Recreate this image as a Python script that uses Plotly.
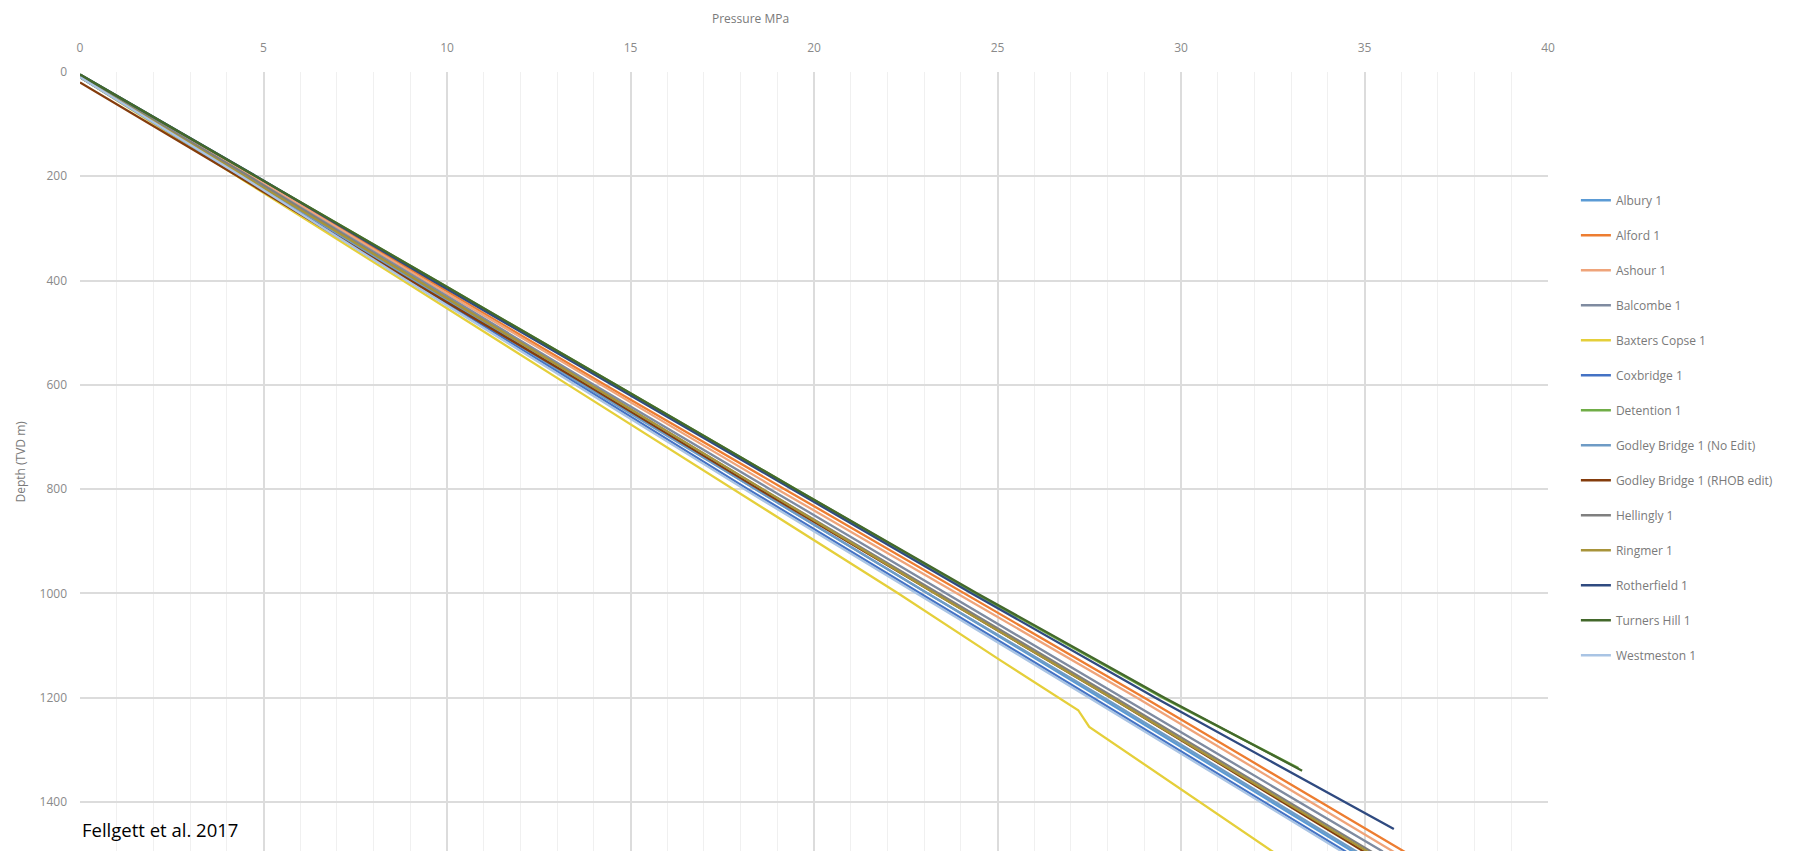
import plotly.graph_objects as go

# ---- data (pressure MPa vs depth TVD m) ----
wells = ["Albury 1", "Alford 1", "Ashour 1", "Balcombe 1", "Baxters Copse 1",
         "Coxbridge 1", "Detention 1", "Godley Bridge 1 (No Edit)",
         "Godley Bridge 1 (RHOB edit)", "Hellingly 1", "Ringmer 1",
         "Rotherfield 1", "Turners Hill 1", "Westmeston 1"]

albury_depth = [10, 200, 400, 600, 800, 1000, 1200, 1500]
albury_p = [0, 4.5, 9.1, 13.8, 18.4, 23.1, 27.8, 34.8]

alford_depth = [10, 200, 400, 600, 800, 1000, 1200, 1500]
alford_p = [0, 4.7, 9.5, 14.3, 19.2, 24.1, 29.0, 36.2]

ashour_depth = [10, 200, 400, 600, 800, 1000, 1200, 1500]
ashour_p = [0, 4.7, 9.4, 14.2, 19.0, 23.9, 28.8, 35.9]

balcombe_depth = [8, 200, 400, 600, 800, 1000, 1200, 1495]
balcombe_p = [0, 4.6, 9.3, 14.0, 18.8, 23.6, 28.4, 35.5]

baxters_depth = [10, 200, 400, 600, 800, 1000, 1128, 1224, 1256, 1400, 1500]
baxters_p = [0, 4.3, 8.8, 13.3, 17.8, 22.3, 25.07, 27.2, 27.5, 30.5, 32.6]

coxbridge_depth = [10, 200, 400, 600, 800, 1000, 1200, 1500]
coxbridge_p = [0, 4.4, 9.0, 13.6, 18.2, 22.9, 27.6, 34.6]

detention_depth = [5, 200, 400, 600, 800, 1000, 1200, 1335]
detention_p = [0, 4.8, 9.7, 14.6, 19.5, 24.4, 29.5, 33.2]

godley_noedit_depth = [10, 200, 400, 600, 800, 1000, 1200, 1500]
godley_noedit_p = [0, 4.5, 9.1, 13.7, 18.4, 23.1, 27.9, 34.9]

godley_rhob_depth = [20, 200, 400, 600, 800, 1000, 1200, 1500]
godley_rhob_p = [0, 4.3, 9.0, 13.8, 18.5, 23.3, 28.1, 35.1]

hellingly_depth = [10, 200, 400, 600, 800, 1000, 1200, 1500]
hellingly_p = [0, 4.6, 9.2, 13.9, 18.6, 23.4, 28.2, 35.3]

ringmer_depth = [10, 200, 400, 600, 800, 1000, 1200, 1500]
ringmer_p = [0, 4.5, 9.2, 13.9, 18.6, 23.3, 28.1, 35.2]

rotherfield_depth = [5, 200, 400, 600, 800, 1000, 1200, 1452]
rotherfield_p = [0, 4.8, 9.6, 14.5, 19.4, 24.3, 29.3, 35.8]

turners_depth = [5, 200, 400, 600, 800, 1000, 1200, 1340]
turners_p = [0, 4.8, 9.7, 14.6, 19.5, 24.45, 29.55, 33.3]

westmeston_depth = [10, 200, 400, 600, 800, 1000, 1200, 1500]
westmeston_p = [0, 4.4, 8.9, 13.5, 18.1, 22.8, 27.5, 34.5]

x_ticks = [0, 5, 10, 15, 20, 25, 30, 35, 40]
y_ticks = [0, 200, 400, 600, 800, 1000, 1200, 1400]

series = [
    (albury_p, albury_depth, "#5B9BD5"),
    (alford_p, alford_depth, "#ED7D31"),
    (ashour_p, ashour_depth, "#EFA47A"),
    (balcombe_p, balcombe_depth, "#7F8BA0"),
    (baxters_p, baxters_depth, "#E5CF3A"),
    (coxbridge_p, coxbridge_depth, "#4472C4"),
    (detention_p, detention_depth, "#70AD47"),
    (godley_noedit_p, godley_noedit_depth, "#6E9BC5"),
    (godley_rhob_p, godley_rhob_depth, "#843C0C"),
    (hellingly_p, hellingly_depth, "#7F7F7F"),
    (ringmer_p, ringmer_depth, "#A8943A"),
    (rotherfield_p, rotherfield_depth, "#2F4A80"),
    (turners_p, turners_depth, "#43682B"),
    (westmeston_p, westmeston_depth, "#A9C4E4"),
]

fig = go.Figure()
for name, (p, d, c) in zip(wells, series):
    fig.add_trace(go.Scatter(x=p, y=d, mode="lines", name=name,
                             legendgroup=name,
                             line=dict(color=c, width=2.3)))

# the page body adds an 8px margin, so the figure is sized to fit inside
W, H = 1796, 843
L, R, T, B = 72, 256, 64, 0
plot_w = W - L - R
plot_h = H - T - B

font_fam = "Open Sans, Liberation Sans, sans-serif"
label_col = "#7a7a7a"
fig.update_layout(
    width=W, height=H,
    margin=dict(l=L, r=R, t=T, b=B, autoexpand=False),
    paper_bgcolor="white", plot_bgcolor="white",
    font=dict(family=font_fam, size=12, color=label_col),
    showlegend=True,
    legend=dict(x=1.019, y=0.854, xanchor="left", yanchor="top",
                tracegroupgap=16, font=dict(size=12, color=label_col),
                bgcolor="rgba(0,0,0,0)"),
    xaxis=dict(side="top", range=[0, 40], tickvals=x_ticks,
               automargin=False,
               showgrid=True, gridcolor="#DCDCDC", gridwidth=1.5,
               minor=dict(dtick=1, showgrid=True, gridcolor="#F0F0F0", gridwidth=1),
               zeroline=False, showline=False, ticks="",
               ticklabelstandoff=17,
               tickfont=dict(size=12, color="#8a8a8a")),
    yaxis=dict(range=[1494, 0], tickvals=y_ticks,
               automargin=False,
               showgrid=True, gridcolor="#DCDCDC", gridwidth=1.5,
               zeroline=False, showline=False, ticks="",
               ticklabelstandoff=12,
               tickfont=dict(size=12, color="#8a8a8a")),
)

# axis titles
fig.add_annotation(text="Pressure MPa", xref="paper", yref="paper",
                   x=0.457, y=1 + T / plot_h, xanchor="center",
                   yanchor="top", showarrow=False,
                   font=dict(family=font_fam, size=12, color=label_col))
fig.add_annotation(text="Depth (TVD m)", xref="paper", yref="paper",
                   x=-60 / plot_w, y=0.5, xanchor="center", yanchor="middle",
                   textangle=-90, showarrow=False,
                   font=dict(family=font_fam, size=12, color=label_col))

fig.add_annotation(text="Fellgett et al. 2017", xref="paper", yref="paper",
                   x=0.0, y=0.027, xanchor="left", yanchor="middle",
                   showarrow=False,
                   font=dict(family=font_fam, size=18.5, color="black"))

fig.write_html("out.html")
